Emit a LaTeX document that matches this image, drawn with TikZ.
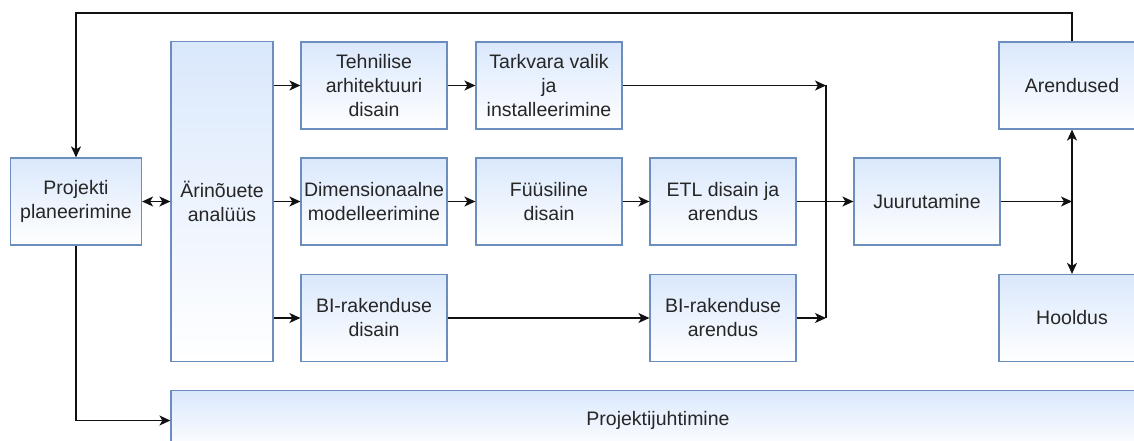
\documentclass[tikz,border=0pt]{standalone}
\usepackage{fontspec}
\setmainfont{Liberation Sans}
\usetikzlibrary{arrows.meta}
\definecolor{boxtop}{HTML}{DAE8FC}
\definecolor{boxline}{HTML}{6C8EBF}
\definecolor{wire}{HTML}{111111}
\tikzset{
  box/.style={draw=boxline, line width=1.2pt, top color=boxtop, bottom color=white,
    rectangle, inner sep=0pt, align=center, text=black!85,
    font=\fontsize{19.5}{24}\selectfont},
  wbox/.style={box, minimum width=146pt, minimum height=87pt},
  link/.style={draw=wire, line width=1.4pt, -{Stealth[length=11pt,width=10pt,inset=3pt]}},
  twolink/.style={draw=wire, line width=1.4pt, {Stealth[length=11pt,width=10pt,inset=3pt]}-{Stealth[length=11pt,width=10pt,inset=3pt]}},
  plain/.style={draw=wire, line width=1.4pt}
}
\begin{document}
\begin{tikzpicture}[x=1pt,y=-1pt]
\clip (0,0) rectangle (1134,441);
\fill[white] (0,0) rectangle (1134,441);

% process boxes
\node[box, minimum width=131pt, minimum height=87pt] (plan) at (76,201.5) {Projekti\\planeerimine};
\node[box, minimum width=102pt, minimum height=320pt] (ana) at (222,201.5) {Ärinõuete\\analüüs};
\node[wbox] (tech) at (374,85.5) {Tehnilise\\arhitektuuri\\disain};
\node[wbox] (soft) at (549,85.5) {Tarkvara valik\\ja\\installeerimine};
\node[wbox] (dim) at (374,201.5) {Dimensionaalne\\modelleerimine};
\node[wbox] (phys) at (549,201.5) {Füüsiline\\disain};
\node[wbox] (etl) at (723,201.5) {ETL disain ja\\arendus};
\node[wbox] (deploy) at (927,201.5) {Juurutamine};
\node[wbox] (dev) at (1072,85.5) {Arendused};
\node[wbox] (maint) at (1072,318) {Hooldus};
\node[wbox] (bidis) at (374,318) {BI-rakenduse\\disain};
\node[wbox] (bidev) at (723,318) {BI-rakenduse\\arendus};
\node[box, minimum width=974pt, minimum height=60pt] (pm) at (658,420.5) {Projektijuhtimine};

% junction points
\coordinate (jtop) at (826,85.5);
\coordinate (jbot) at (826,318);
\coordinate (jdev) at (1072,201.5);

% feedback loop from development back to planning
\draw[link] (dev.north) -- (1072,13) -| (plan.north);
\draw[twolink] (plan.east) -- (ana.west);
\draw[link] (plan.south) |- (pm.west);

% analysis fans out
\draw[link] (ana.east |- tech.west) -- (tech.west);
\draw[link] (ana.east |- dim.west) -- (dim.west);
\draw[link] (ana.east |- bidis.west) -- (bidis.west);

% rows
\draw[link] (tech) -- (soft);
\draw[link] (soft.east) -- (jtop);
\draw[link] (dim) -- (phys);
\draw[link] (phys) -- (etl);
\draw[link] (etl.east) -- (deploy.west);
\draw[link] (bidis) -- (bidev);
\draw[link] (bidev.east) -- (jbot);
\draw[plain] (jtop) -- (jbot);

% after deployment
\draw[link] (deploy.east) -- (jdev);
\draw[twolink] (dev.south) -- (maint.north);
\end{tikzpicture}
\end{document}
